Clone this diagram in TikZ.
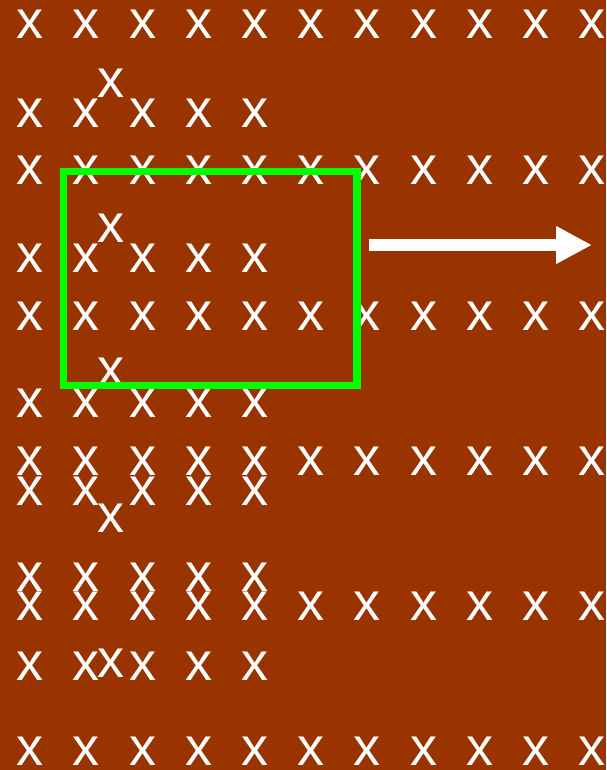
\documentclass[tikz,border=0pt]{standalone}
\usepackage{fontspec}
\setmainfont{Liberation Sans}
\usetikzlibrary{arrows.meta}
\definecolor{bgbrown}{HTML}{993300}
\definecolor{boxgreen}{HTML}{00FF00}
\tikzset{
  xs/.style={inner sep=0pt, outer sep=0pt, anchor=base, text=white, font=\fontsize{54}{54}\selectfont},
  greenbox/.style={draw=boxgreen, line width=7.5pt, inner sep=0pt, minimum width=293.5pt, minimum height=214.2pt},
  bigarrow/.style={draw=white, line width=11.7pt, -{Triangle[length=36pt,width=35.4pt]}}
}
\begin{document}
\begin{tikzpicture}[x=1pt,y=-1pt]
\fill[bgbrown] (0,0) rectangle (606,770);
\useasboundingbox (0,0) rectangle (606,770);
% long rows
\foreach \r/\b in {1/39, 2/184, 3/330, 4/475, 5/620, 6/765}{
  \foreach \i in {1,...,11}{
    \node[xs] (L\r c\i) at ({30.2+56.2*(\i-1)},\b) {x};
  }
}
% short rows
\foreach \r/\b in {1/127.3, 2/272.6, 3/417.3, 4/505, 5/591.7, 6/680}{
  \foreach \i in {1,...,5}{
    \node[xs] (S\r c\i) at ({30.2+56.2*(\i-1)},\b) {x};
  }
}
% shifted x
\node[xs] (sp1) at (111,97.3) {x};
\node[xs] (sp2) at (111,242.3) {x};
\node[xs] (sp3) at (111,386.7) {x};
\node[xs] (sp4) at (111,532.7) {x};
\node[xs] (sp6) at (111,677.3) {x};
% green box
\node[greenbox] (box) at (210.25,278.4) {};
% arrow
\coordinate (as) at (369,245);
\coordinate (ae) at (592,245);
\draw[bigarrow] (as) -- (ae);
\end{tikzpicture}
\end{document}
